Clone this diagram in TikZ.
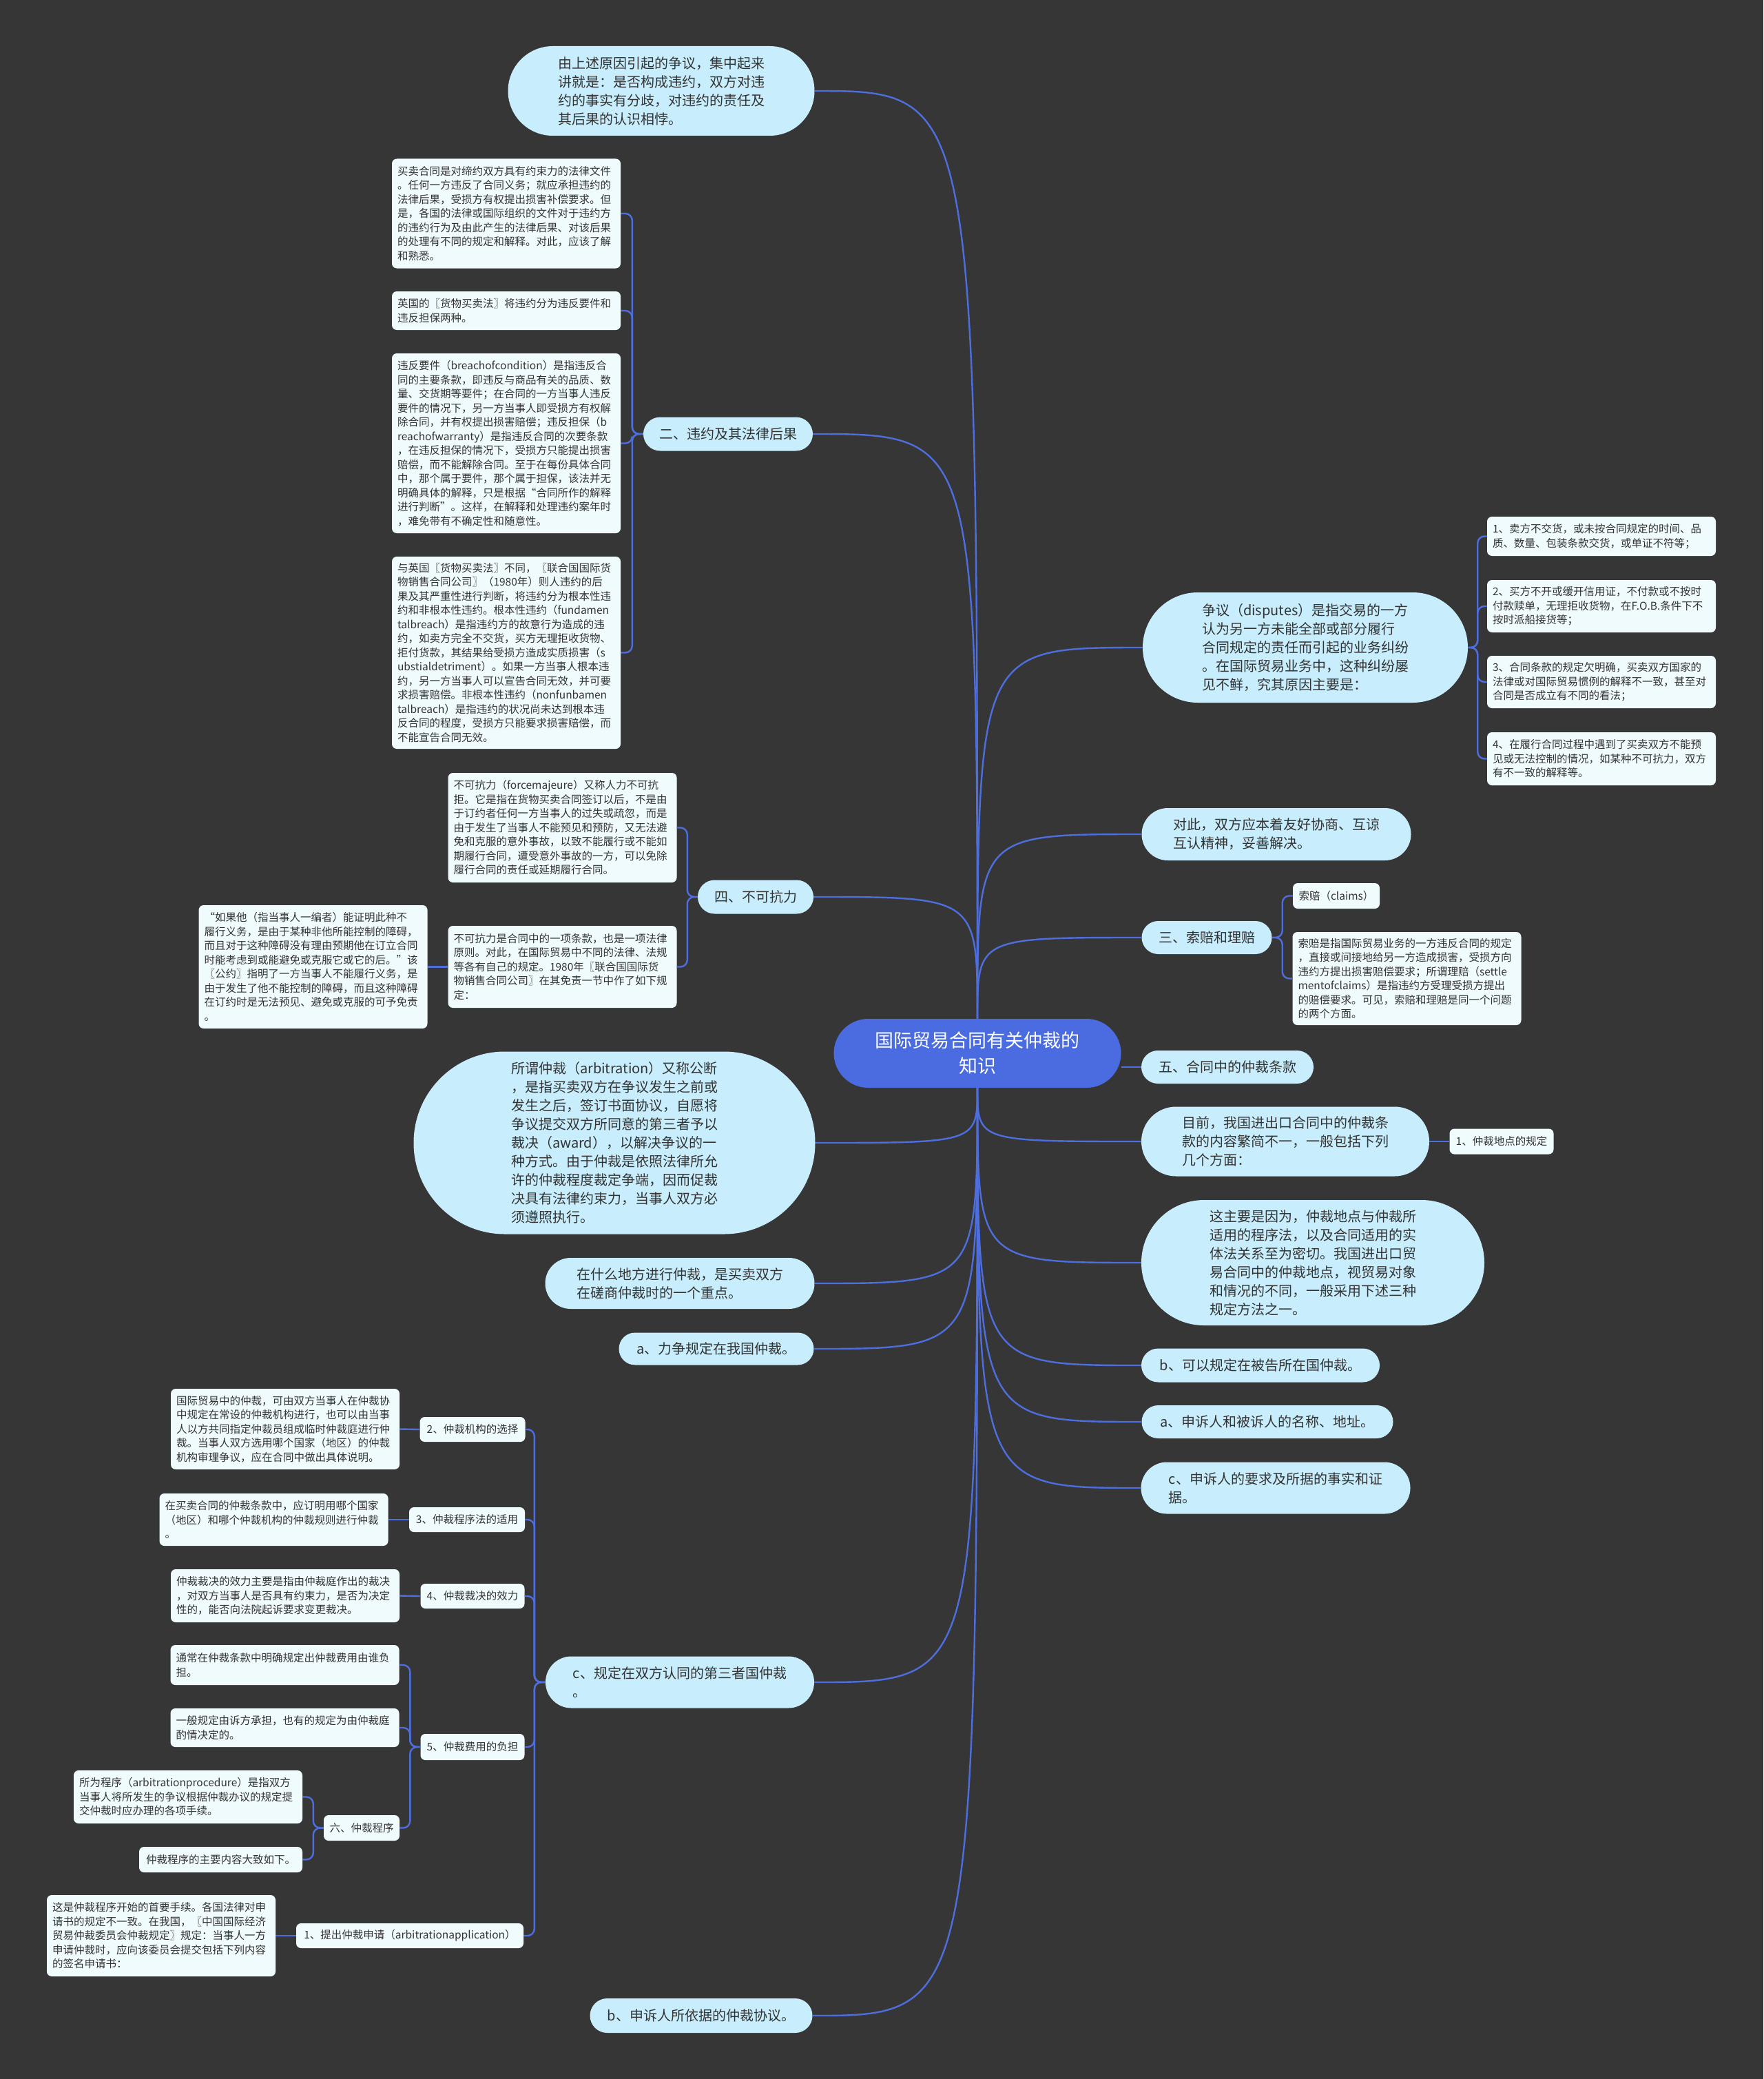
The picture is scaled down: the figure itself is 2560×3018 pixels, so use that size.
\documentclass[tikz,border=0pt]{standalone}
\usepackage{fontspec}
\setmainfont{Noto Sans CJK SC}
\usetikzlibrary{shapes.misc, positioning}
\definecolor{bgdark}{RGB}{54,54,54}
\definecolor{rootblue}{RGB}{74,108,224}
\definecolor{linkblue}{RGB}{78,110,222}
\definecolor{bubcyan}{RGB}{200,237,252}
\definecolor{leafwhite}{RGB}{240,251,254}
\definecolor{inkgray}{RGB}{51,51,51}
\newcommand\rootfont{\fontsize{27pt}{37pt}\selectfont}
\newcommand\bubfont{\fontsize{20pt}{27pt}\selectfont}
\newcommand\leaffont{\fontsize{15.5pt}{20.5pt}\selectfont}

\begin{document}
\begin{tikzpicture}[x=1pt, y=-1pt,
    topicbox/.style={rounded rectangle, fill=rootblue, text=white, font=\rootfont,
      align=center, inner xsep=0pt, inner ysep=0pt},
    bub/.style={rounded rectangle, fill=bubcyan, text=inkgray, font=\bubfont,
      align=left, inner xsep=0pt, inner ysep=0pt},
    tag/.style={rectangle, rounded corners=7pt, fill=leafwhite, text=inkgray,
      font=\leaffont, align=left, inner xsep=8pt, inner ysep=5pt},
    note/.style={tag, text width=316pt},
    link/.style={draw=linkblue, line width=2.4pt},
    fork/.style={link, rounded corners=10pt}]
    \useasboundingbox (0,0) rectangle (2560,3018);
    \fill[bgdark] (0,0) rectangle (2560,3018);

    \node[topicbox, minimum width=417pt, minimum height=100pt](topic) at (1419,1529)
      {国际贸易合同有关仲裁的\\知识};

    % left side
    \node[bub, minimum width=445pt, minimum height=130pt](why) at (960,132)
      {由上述原因引起的争议，集中起来\\讲就是：是否构成违约，双方对违\\约的事实有分歧，对违约的责任及\\其后果的认识相悖。};
    \node[bub, minimum width=246pt, minimum height=49pt](breach) at (1057,630)
      {二、违约及其法律后果};
    \node[note, minimum height=159pt](b1) at (735,310)
      {买卖合同是对缔约双方具有约束力的法律文件\\。任何一方违反了合同义务；就应承担违约的\\法律后果，受损方有权提出损害补偿要求。但\\是，各国的法律或国际组织的文件对于违约方\\的违约行为及由此产生的法律后果、对该后果\\的处理有不同的规定和解释。对此，应该了解\\和熟悉。};
    \node[note, minimum height=56pt](b2) at (735,451)
      {英国的〖货物买卖法〗将违约分为违反要件和\\违反担保两种。};
    \node[note, minimum height=261pt](b3) at (735,643.5)
      {违反要件（breachofcondition）是指违反合\\同的主要条款，即违反与商品有关的品质、数\\量、交货期等要件；在合同的一方当事人违反\\要件的情况下，另一方当事人即受损方有权解\\除合同，并有权提出损害赔偿；违反担保（b\\reachofwarranty）是指违反合同的次要条款\\，在违反担保的情况下，受损方只能提出损害\\赔偿，而不能解除合同。至于在每份具体合同\\中，那个属于要件，那个属于担保，该法并无\\明确具体的解释，只是根据“合同所作的解释\\进行判断”。这样，在解释和处理违约案年时\\，难免带有不确定性和随意性。};
    \node[note, minimum height=279pt](b4) at (735,947.5)
      {与英国〖货物买卖法〗不同，〖联合国国际货\\物销售合同公司〗（1980年）则人违约的后\\果及其严重性进行判断，将违约分为根本性违\\约和非根本性违约。根本性违约（fundamen\\talbreach）是指违约方的故意行为造成的违\\约，如卖方完全不交货，买方无理拒收货物、\\拒付货款，其结果给受损方造成实质损害（s\\ubstialdetriment）。如果一方当事人根本违\\约，另一方当事人可以宣告合同无效，并可要\\求损害赔偿。非根本性违约（nonfunbamen\\talbreach）是指违约的状况尚未达到根本违\\反合同的程度，受损方只能要求损害赔偿，而\\不能宣告合同无效。};

    \node[bub, minimum width=168pt, minimum height=49pt](force) at (1097,1302)
      {四、不可抗力};
    \node[note, minimum height=159pt](f1) at (816.5,1201.5)
      {不可抗力（forcemajeure）又称人力不可抗\\拒。它是指在货物买卖合同签订以后，不是由\\于订约者任何一方当事人的过失或疏忽，而是\\由于发生了当事人不能预见和预防，又无法避\\免和克服的意外事故，以致不能履行或不能如\\期履行合同，遭受意外事故的一方，可以免除\\履行合同的责任或延期履行合同。};
    \node[note, minimum height=119pt](f2) at (816.5,1403.5)
      {不可抗力是合同中的一项条款，也是一项法律\\原则。对此，在国际贸易中不同的法律、法规\\等各有自己的规定。1980年〖联合国国际货\\物销售合同公司〗在其免责一节中作了如下规\\定：};
    \node[note, minimum height=179pt](f3) at (454.5,1403.5)
      {“如果他（指当事人一编者）能证明此种不\\履行义务，是由于某种非他所能控制的障碍，\\而且对于这种障碍没有理由预期他在订立合同\\时能考虑到或能避免或克服它或它的后。”该\\〖公约〗指明了一方当事人不能履行义务，是\\由于发生了他不能控制的障碍，而且这种障碍\\在订约时是无法预见、避免或克服的可予免责\\。};

    \node[bub, minimum width=583pt, minimum height=265pt](arbit) at (892,1659)
      {所谓仲裁（arbitration）又称公断\\，是指买卖双方在争议发生之前或\\发生之后，签订书面协议，自愿将\\争议提交双方所同意的第三者予以\\裁决（award），以解决争议的一\\种方式。由于仲裁是依照法律所允\\许的仲裁程度裁定争端，因而促裁\\决具有法律约束力，当事人双方必\\须遵照执行。};
    \node[bub, minimum width=391pt, minimum height=74pt](where) at (987,1863)
      {在什么地方进行仲裁，是买卖双方\\在磋商仲裁时的一个重点。};
    \node[bub, minimum width=283pt, minimum height=47pt](ours) at (1040,1958)
      {a、力争规定在我国仲裁。};
    \node[bub, minimum width=390pt, minimum height=75pt](third) at (987,2442)
      {c、规定在双方认同的第三者国仲裁\\。};
    \node[bub, minimum width=323pt, minimum height=50pt](accord) at (1018,2926)
      {b、申诉人所依据的仲裁协议。};

    \node[tag, minimum width=153pt, minimum height=36pt](organ) at (686,2075)
      {2、仲裁机构的选择};
    \node[note, minimum height=117pt](organtx) at (414,2074.5)
      {国际贸易中的仲裁，可由双方当事人在仲裁协\\中规定在常设的仲裁机构进行，也可以由当事\\人以方共同指定仲裁员组成临时仲裁庭进行仲\\裁。当事人双方选用哪个国家（地区）的仲裁\\机构审理争议，应在合同中做出具体说明。};
    \node[tag, minimum width=168pt, minimum height=36pt](lawuse) at (678,2206)
      {3、仲裁程序法的适用};
    \node[note, minimum height=76pt](lawtx) at (397.5,2206)
      {在买卖合同的仲裁条款中，应订明用哪个国家\\（地区）和哪个仲裁机构的仲裁规则进行仲裁\\。};
    \node[tag, minimum width=151pt, minimum height=36pt](effect) at (686,2317)
      {4、仲裁裁决的效力};
    \node[note, minimum height=77pt](effecttx) at (414,2316.5)
      {仲裁裁决的效力主要是指由仲裁庭作出的裁决\\，对双方当事人是否具有约束力，是否为决定\\性的，能否向法院起诉要求变更裁决。};
    \node[tag, minimum width=151pt, minimum height=38pt](fee) at (686,2536)
      {5、仲裁费用的负担};
    \node[note, minimum height=58pt](fee1) at (413.5,2417)
      {通常在仲裁条款中明确规定出仲裁费用由谁负\\担。};
    \node[note, minimum height=56pt](fee2) at (413.5,2508)
      {一般规定由诉方承担，也有的规定为由仲裁庭\\酌情决定的。};
    \node[tag, minimum width=110pt, minimum height=37pt](proc) at (525,2653.5)
      {六、仲裁程序};
    \node[note, minimum height=77pt](proc1) at (273,2608.5)
      {所为程序（arbitrationprocedure）是指双方\\当事人将所发生的争议根据仲裁办议的规定提\\交仲裁时应办理的各项手续。};
    \node[tag, minimum width=237pt, minimum height=37pt](proc2) at (320.5,2699.5)
      {仲裁程序的主要内容大致如下。};
    \node[tag, minimum width=330pt, minimum height=36pt](apply) at (595,2810)
      {1、提出仲裁申请（arbitrationapplication）};
    \node[note, minimum height=118pt](applytx) at (234,2810)
      {这是仲裁程序开始的首要手续。各国法律对申\\请书的规定不一致。在我国，〖中国国际经济\\贸易仲裁委员会仲裁规定〗规定：当事人一方\\申请仲裁时，应向该委员会提交包括下列内容\\的签名申请书：};

    % right side
    \node[bub, minimum width=472pt, minimum height=160pt](dispute) at (1895,940)
      {争议（disputes）是指交易的一方\\认为另一方未能全部或部分履行\\合同规定的责任而引起的业务纠纷\\。在国际贸易业务中，这种纠纷屡\\见不鲜，究其原因主要是：};
    \node[note, minimum height=57pt](c1) at (2325,778.5)
      {1、卖方不交货，或未按合同规定的时间、品\\质、数量、包装条款交货，或单证不符等；};
    \node[note, minimum height=76pt](c2) at (2325,880)
      {2、买方不开或缓开信用证，不付款或不按时\\付款赎单，无理拒收货物，在F.O.B.条件下不\\按时派船接货等；};
    \node[note, minimum height=76pt](c3) at (2325,990)
      {3、合同条款的规定欠明确，买卖双方国家的\\法律或对国际贸易惯例的解释不一致，甚至对\\合同是否成立有不同的看法；};
    \node[note, minimum height=77pt](c4) at (2325,1101.5)
      {4、在履行合同过程中遇到了买卖双方不能预\\见或无法控制的情况，如某种不可抗力，双方\\有不一致的解释等。};
    \node[bub, minimum width=391pt, minimum height=76pt](amity) at (1853,1211)
      {对此，双方应本着友好协商、互谅\\互认精神，妥善解决。};
    \node[bub, minimum width=189pt, minimum height=48pt](claim) at (1752,1361)
      {三、索赔和理赔};
    \node[tag, minimum width=126pt, minimum height=37pt](claim1) at (1940,1300.5)
      {索赔（claims）};
    \node[note, minimum height=135pt](claim2) at (2042.5,1420.5)
      {索赔是指国际贸易业务的一方违反合同的规定\\，直接或间接地给另一方造成损害，受损方向\\违约方提出损害赔偿要求；所谓理赔（settle\\mentofclaims）是指违约方受理受损方提出\\的赔偿要求。可见，索赔和理赔是同一个问题\\的两个方面。};
    \node[bub, minimum width=250pt, minimum height=48pt](clause) at (1782,1549)
      {五、合同中的仲裁条款};
    \node[bub, minimum width=418pt, minimum height=101pt](now) at (1866,1657)
      {目前，我国进出口合同中的仲裁条\\款的内容繁简不一，一般包括下列\\几个方面：};
    \node[tag, minimum width=151pt, minimum height=37pt](place) at (2180,1657)
      {1、仲裁地点的规定};
    \node[bub, minimum width=498pt, minimum height=182pt](because) at (1906,1833)
      {这主要是因为，仲裁地点与仲裁所\\适用的程序法，以及合同适用的实\\体法关系至为密切。我国进出口贸\\易合同中的仲裁地点，视贸易对象\\和情况的不同，一般采用下述三种\\规定方法之一。};
    \node[bub, minimum width=346pt, minimum height=49pt](defend) at (1830,1982)
      {b、可以规定在被告所在国仲裁。};
    \node[bub, minimum width=365pt, minimum height=48pt](names) at (1840,2064)
      {a、申诉人和被诉人的名称、地址。};
    \node[bub, minimum width=391pt, minimum height=75pt](demand) at (1852,2160)
      {c、申诉人的要求及所据的事实和证\\据。};

    % links from the topic
    \foreach \k in {why,breach,force}
      \draw[link](topic.north) .. controls (topic.north |- \k.east) .. (\k.east);
    \foreach \k in {dispute,amity,claim}
      \draw[link](topic.north) .. controls (topic.north |- \k.west) .. (\k.west);
    \draw[link](clause.west -| topic.east) -- (clause.west);
    \foreach \k in {arbit,where,ours,third,accord}
      \draw[link](topic.south) .. controls (topic.south |- \k.east) .. (\k.east);
    \foreach \k in {now,because,defend,names,demand}
      \draw[link](topic.south) .. controls (topic.south |- \k.west) .. (\k.west);

    % forks
    \foreach \k in {b1,b2,b3,b4} \draw[fork](breach.west) -- ++(-16,0) |- (\k.east);
    \foreach \k in {f1,f2} \draw[fork](force.west) -- ++(-15,0) |- (\k.east);
    \draw[link](f2.west) -- (f3.east);
    \foreach \k in {c1,c2,c3,c4} \draw[fork](dispute.east) -- ++(14,0) |- (\k.west);
    \foreach \k in {claim1,claim2} \draw[fork](claim.east) -- ++(15,0) |- (\k.west);
    \draw[link](now.east) -- (place.west);
    \foreach \k in {organ,lawuse,effect,fee,apply} \draw[fork](third.west) -- ++(-16,0) |- (\k.east);
    \draw[link](organ.west) -- (organtx.east);
    \draw[link](lawuse.west) -- (lawtx.east);
    \draw[link](effect.west) -- (effecttx.east);
    \draw[link](apply.west) -- (applytx.east);
    \foreach \k in {fee1,fee2,proc} \draw[fork](fee.west) -- ++(-15,0) |- (\k.east);
    \foreach \k in {proc1,proc2} \draw[fork](proc.west) -- ++(-15,0) |- (\k.east);
  \end{tikzpicture}
\end{document}
